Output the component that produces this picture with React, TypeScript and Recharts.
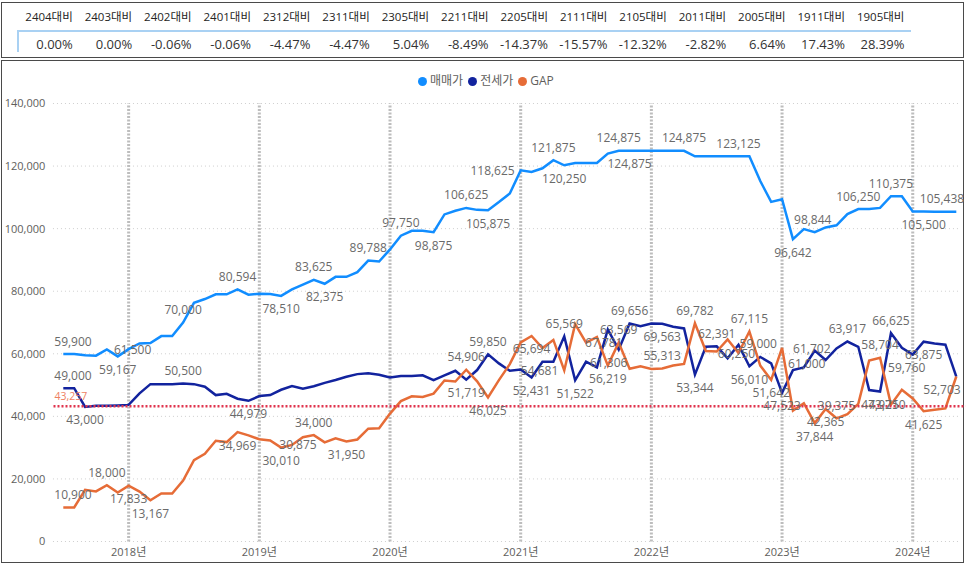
import React from "react";
import {
  LineChart,
  Line,
  XAxis,
  YAxis,
  ReferenceLine,
  LabelList,
} from "recharts";

const FONT = "'Segoe UI', 'Open Sans', 'Noto Sans CJK KR', sans-serif";

// months on the x axis
const months = [
  "2017-07", "2017-08", "2017-09", "2017-10", "2017-11", "2017-12",
  "2018-01", "2018-02", "2018-03", "2018-04", "2018-05", "2018-06", "2018-07", "2018-08", "2018-09", "2018-10", "2018-11", "2018-12",
  "2019-01", "2019-02", "2019-03", "2019-04", "2019-05", "2019-06", "2019-07", "2019-08", "2019-09", "2019-10", "2019-11", "2019-12",
  "2020-01", "2020-02", "2020-03", "2020-04", "2020-05", "2020-06", "2020-07", "2020-08", "2020-09", "2020-10", "2020-11", "2020-12",
  "2021-01", "2021-02", "2021-03", "2021-04", "2021-05", "2021-06", "2021-07", "2021-08", "2021-09", "2021-10", "2021-11", "2021-12",
  "2022-01", "2022-02", "2022-03", "2022-04", "2022-05", "2022-06", "2022-07", "2022-08", "2022-09", "2022-10", "2022-11", "2022-12",
  "2023-01", "2023-02", "2023-03", "2023-04", "2023-05", "2023-06", "2023-07", "2023-08", "2023-09", "2023-10", "2023-11", "2023-12",
  "2024-01", "2024-02", "2024-03", "2024-04", "2024-05",
];

// 매매가
const sale = [
  59900, 59900, 59500, 59400, 61400, 59167,
  61500, 63300, 63467, 65650, 65650, 70000, 76300, 77500, 79000, 79000, 80594, 78900,
  79170, 79100, 78510, 80570, 82125, 83625, 82375, 84600, 84600, 86100, 89788, 89500,
  93350, 97750, 99300, 99300, 98875, 104540, 105700, 106625, 106000, 105875, 108498, 111250,
  118625, 118125, 119300, 121875, 120250, 121000, 121000, 121000, 124000, 124875, 124875, 124875,
  124875, 124875, 124875, 124875, 123125, 123125, 123125, 123125, 123125, 123125, 115220, 108560,
  109420, 96642, 99840, 98844, 100379, 101077, 104640, 106250, 106250, 106625, 110375, 110375,
  105500, 105500, 105438, 105438, 105438,
];

// 전세가
const jeonse = [
  49000, 49000, 43000, 43400, 43400, 43500,
  43667, 47350, 50300, 50300, 50300, 50500, 50300, 49460, 46800, 47220, 45625, 44979,
  46480, 46800, 48500, 49695, 48800, 49625, 50700, 51600, 52650, 53500, 53740, 53300,
  52460, 52880, 52880, 53100, 51600, 53100, 54570, 51719, 54800, 59850, 56930, 54570,
  55000, 52431, 57450, 57450, 65569, 51522, 57450, 55650, 67781, 61306, 69656, 68850,
  69700, 69563, 68630, 68100, 53344, 62240, 62391, 58530, 62875, 56010, 59000, 56918,
  47523, 54790, 55650, 61000, 58014, 61702, 63917, 62240, 48400, 47921, 66625, 61900,
  59760, 63875, 63300, 62900, 52703,
];

// GAP
const gap = [
  10900, 10900, 16500, 16000, 18000, 15667,
  17833, 15950, 13167, 15350, 15350, 19500, 26000, 28040, 32200, 31780, 34969, 33921,
  32690, 32300, 30010, 30875, 33325, 34000, 31675, 33000, 31950, 32600, 36048, 36200,
  40890, 44870, 46420, 46200, 47275, 51440, 51130, 54906, 51200, 46025, 51568, 56680,
  63625, 65694, 61850, 64425, 54681, 69478, 63550, 65350, 56219, 63569, 55219, 56025,
  55175, 55313, 56245, 56775, 69782, 60885, 60734, 64595, 60250, 67115, 56220, 51642,
  61897, 41852, 44190, 37844, 42365, 39375, 40723, 44010, 57850, 58704, 43750, 48475,
  45740, 41625, 42138, 42538, 52735,
];

const avgGap = 43257;
const yTicks = [0, 20000, 40000, 60000, 80000, 100000, 120000, 140000];

// which points carry a data label: [index, place, shift]
const saleLabels = [
  [0, "t"], [5, "b"], [6, "c", 4], [11, "t"], [16, "t"], [20, "b"], [23, "t"], [24, "b"],
  [28, "t"], [31, "t"], [34, "b"], [37, "t"], [39, "b"], [42, "l"], [45, "t"], [46, "b"],
  [51, "t"], [52, "b"], [57, "t"], [62, "t"], [67, "b"], [69, "t", -2], [73, "t"], [76, "t"],
  [79, "b"], [82, "t"],
];
const jeonseLabels = [
  [0, "t"], [2, "b"], [11, "t"], [17, "b"], [37, "b"], [39, "t"], [43, "b"], [46, "t"],
  [47, "b"], [50, "b", -4], [51, "b", -10], [52, "t"], [55, "b"], [58, "b"], [60, "t"],
  [63, "b"], [64, "t", -2], [66, "b"], [69, "b", -8], [71, "l"], [72, "t"], [75, "b"],
  [76, "t"], [78, "b", -6], [79, "b"], [82, "b"],
];
const gapLabels = [
  [0, "t"], [4, "t"], [6, "b"], [8, "b"], [16, "b"], [20, "b"], [21, "c", 6], [23, "t"],
  [26, "b"], [37, "t"], [39, "b"], [43, "b"], [46, "l"], [50, "b"], [51, "t"], [55, "t"],
  [58, "t"], [62, "c", -2], [63, "t"], [65, "b"], [69, "b"], [70, "b"], [71, "t"], [75, "t"],
  [76, "c", -4], [79, "b"],
];

// 비교 테이블
const compareHeads = [
  "2404대비", "2403대비", "2402대비", "2401대비", "2312대비", "2311대비", "2305대비", "2211대비",
  "2205대비", "2111대비", "2105대비", "2011대비", "2005대비", "1911대비", "1905대비",
];
const compareVals = [0.0, 0.0, -0.06, -0.06, -4.47, -4.47, 5.04, -8.49, -14.37, -15.57, -12.32, -2.82, 6.64, 17.43, 28.39];

const series = [
  { key: "sale", name: "매매가", color: "#118DFF", labels: saleLabels },
  { key: "jeonse", name: "전세가", color: "#12239E", labels: jeonseLabels },
  { key: "gap", name: "GAP", color: "#E66C37", labels: gapLabels },
];

const rows = months.map((m, i) => ({ i, m, sale: sale[i], jeonse: jeonse[i], gap: gap[i] }));
const yearIdx = months.map((m, i) => (m.endsWith("-01") ? i : -1)).filter((i) => i >= 0);
const lastIdx = months.length - 1;

const fmt = (v: number) => v.toLocaleString("en-US");

const makeLabel = (specs: any[]) => (props: any) => {
  const vb = props.viewBox || {};
  const x = vb.x ?? props.x;
  const y = vb.y ?? props.y;
  const idx = props.index ?? props.payload?.i;
  const s = specs.find((e) => e[0] === idx);
  if (!s || x == null || y == null) return null;
  const pos = s[1];
  const dx = s[2] || 0;
  let tx = x + dx;
  let ty = y;
  let anchor = "middle";
  if (pos === "t") ty = y - 13;
  else if (pos === "b") ty = y + 13;
  else if (pos === "l") {
    tx = x - 6 + dx;
    anchor = "end";
  }
  if (anchor === "middle") tx = Math.min(Math.max(tx, 73), 942);
  return (
    <text
      x={tx}
      y={ty}
      textAnchor={anchor}
      dominantBaseline="central"
      fontSize={12}
      fontFamily={FONT}
      fill="#6A6A6A"
    >
      {fmt(Number(props.value))}
    </text>
  );
};

const avgLabel = (props: any) => {
  const vb = props.viewBox || {};
  return (
    <text x={(vb.x ?? 53) + 1} y={(vb.y ?? 406) - 10} fontSize={10.5} fontFamily={FONT} fill="#EE7F62" dominantBaseline="central">
      {fmt(avgGap)}
    </text>
  );
};

export default function App() {
  return (
    <div style={{ position: "absolute", left: 0, top: 0, width: 966, height: 564, background: "#fff", fontFamily: FONT }}>
      {/* 비교 테이블 */}
      <div
        style={{
          position: "absolute", left: 1, top: 2, width: 963, height: 56,
          border: "1.5px solid #4a4a4a", boxSizing: "border-box", background: "#fff",
        }}
      >
        {compareHeads.map((h, k) => (
          <div key={h} style={{ position: "absolute", left: 11.4 + 59.4 * k, top: 6, width: 59.4, textAlign: "right", fontSize: 11.5, lineHeight: "16px", color: "#252423" }}>
            {h}
          </div>
        ))}
        <div style={{ position: "absolute", left: 14.5, top: 27, width: 894, height: 2, background: "#A9D1F3" }} />
        <div style={{ position: "absolute", left: 14.5, top: 28, width: 2, height: 21, background: "#A9D1F3" }} />
        {compareVals.map((v, k) => (
          <div key={k} style={{ position: "absolute", left: 11.4 + 59.4 * k, top: 33, width: 59.4, textAlign: "right", fontSize: 13, lineHeight: "17px", color: "#333" }}>
            {v.toFixed(2)}%
          </div>
        ))}
      </div>

      {/* 차트 패널 */}
      <div
        style={{
          position: "absolute", left: 1, top: 60, width: 963, height: 503,
          border: "1.5px solid #4a4a4a", boxSizing: "border-box", background: "#fff",
        }}
      />

      {/* 범례 */}
      <div style={{ position: "absolute", left: 418, top: 73, display: "flex", alignItems: "center", fontSize: 12, color: "#605E5C", lineHeight: "16px" }}>
        {series.map((s) => (
          <div key={s.key} style={{ display: "flex", alignItems: "center", marginRight: 5 }}>
            <span style={{ display: "inline-block", width: 9, height: 9, borderRadius: "50%", background: s.color, marginRight: 3 }} />
            <span>{s.name}</span>
          </div>
        ))}
      </div>

      <div style={{ position: "absolute", left: 0, top: 61 }}>
        <LineChart width={966} height={503} data={rows} margin={{ top: 42.5, right: 9.7, bottom: 0, left: 0 }}>
          <XAxis
            type="number"
            dataKey="i"
            domain={[0, lastIdx]}
            ticks={yearIdx}
            interval={0}
            tickFormatter={(i: number) => months[i].slice(0, 4) + "년"}
            axisLine={false}
            tickLine={false}
            tickSize={0}
            tickMargin={7}
            height={22.5}
            tick={{ fill: "#605E5C", fontSize: 11, fontFamily: FONT }}
          />
          <YAxis
            domain={[0, 140000]}
            ticks={yTicks}
            interval={0}
            tickFormatter={(v: number) => fmt(v)}
            axisLine={false}
            tickLine={false}
            tickSize={0}
            tickMargin={18}
            width={63.3}
            tick={{ fill: "#605E5C", fontSize: 11, fontFamily: FONT }}
          />

          {/* 가로 눈금선 (축 라벨 옆까지) */}
          {yTicks.map((t) => (
            <ReferenceLine
              key={"g" + t}
              ifOverflow="visible"
              segment={[
                { x: -0.95, y: t },
                { x: lastIdx + 0.35, y: t },
              ]}
              stroke="#CFCFCF"
              strokeDasharray="1 3"
            />
          ))}

          {/* 연도 구분선 */}
          {yearIdx.map((ix) => (
            <ReferenceLine key={"yr" + ix} x={ix} stroke="#BDBDBD" strokeWidth={3} strokeDasharray="2 1.5" />
          ))}

          {/* 라벨은 선 아래에 */}
          {series.map((s) => (
            <Line
              key={"lbl-" + s.key}
              dataKey={s.key}
              stroke="none"
              dot={false}
              activeDot={false}
              legendType="none"
              isAnimationActive={false}
            >
              <LabelList dataKey={s.key} content={makeLabel(s.labels)} />
            </Line>
          ))}

          {series.map((s) => (
            <Line
              key={s.key}
              type="linear"
              dataKey={s.key}
              name={s.name}
              stroke={s.color}
              strokeWidth={2.5}
              dot={false}
              activeDot={false}
              isAnimationActive={false}
            />
          ))}

          <ReferenceLine
            ifOverflow="visible"
            segment={[
              { x: -0.9, y: avgGap },
              { x: lastIdx + 0.85, y: avgGap },
            ]}
            stroke="#E0344E"
            strokeWidth={2.5}
            strokeDasharray="2 2"
            label={avgLabel}
          />
        </LineChart>
      </div>
    </div>
  );
}
